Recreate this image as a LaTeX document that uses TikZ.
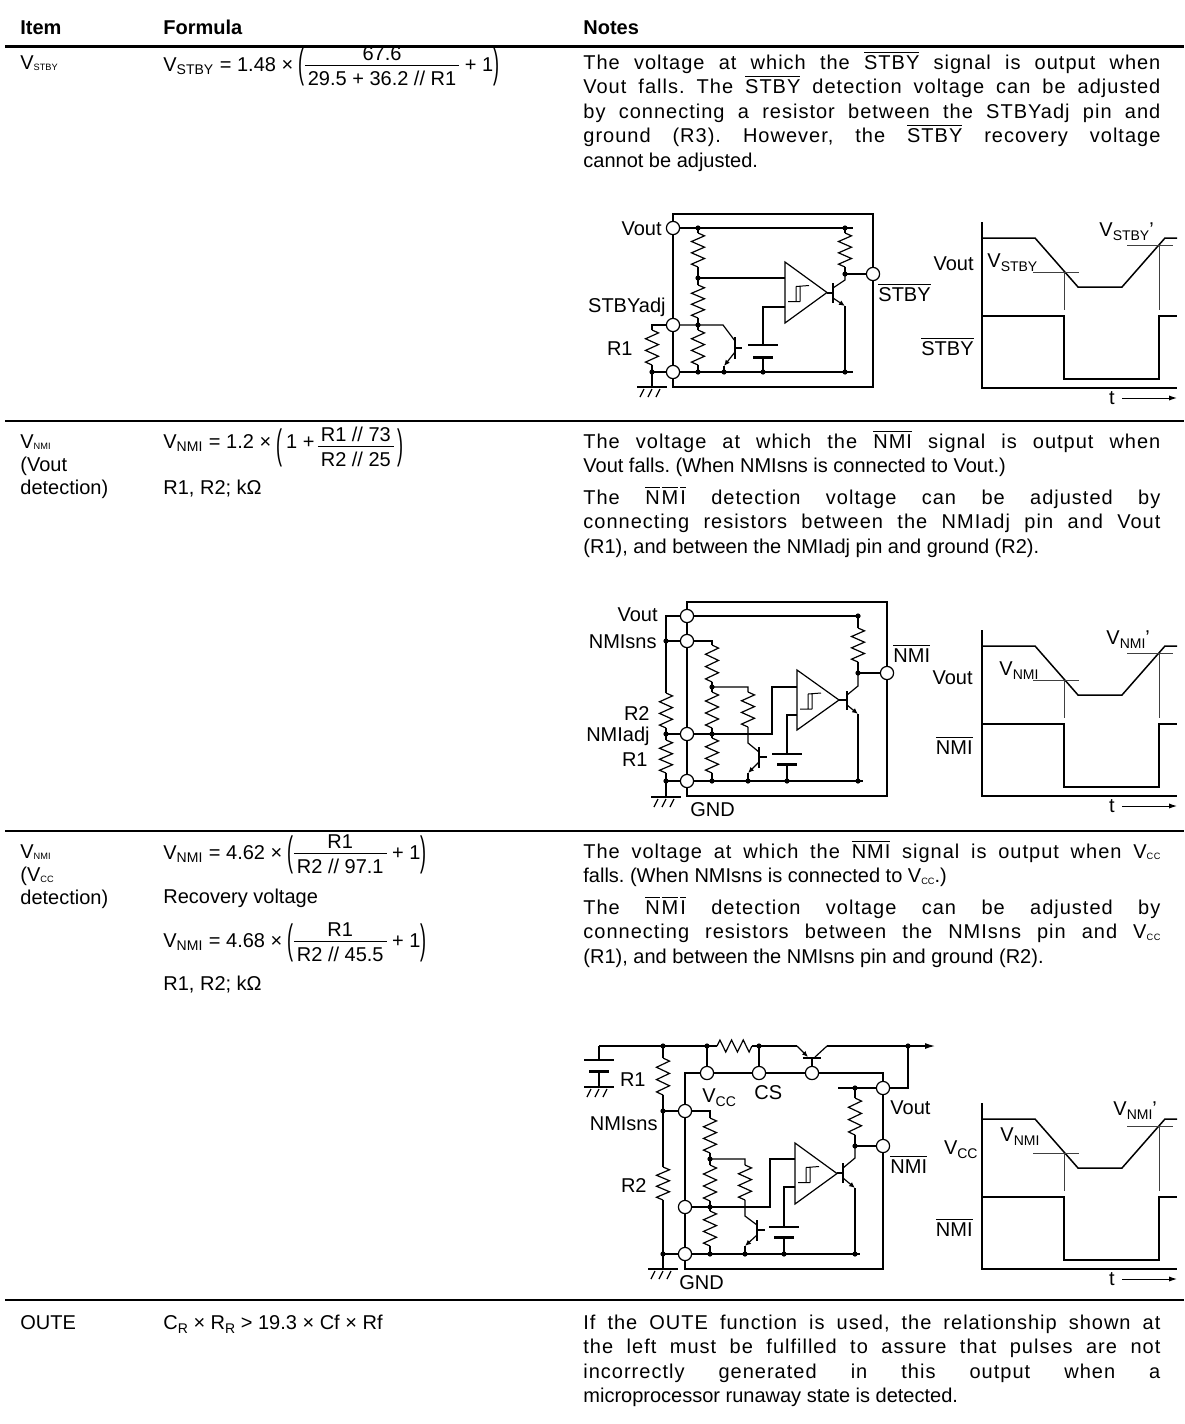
\documentclass[tikz,border=0pt]{standalone}
\usepackage{fontspec}
\setmainfont{Liberation Sans}
\usepackage{amsmath}
\usepackage{graphicx}
\usetikzlibrary{arrows.meta}
\newcommand{\olt}[1]{\ensuremath{\overline{\hbox{#1}}}}
\newcommand{\tsub}[2]{#1\raisebox{-0.8pt}{\fontsize{4.6}{5}\selectfont #2}}
\newcommand{\csub}[2]{#1\raisebox{-2pt}{\fontsize{7}{8}\selectfont #2}}
\newcommand{\mtx}[1]{\text{#1}}
\newcommand{\myfr}[2]{\vcenter{\offinterlineskip\halign{\hfil\kern1.5pt##\kern1.5pt\hfil\cr\vrule height7.5pt depth0.7pt width0pt #1\cr\noalign{\kern1.9pt\hrule height0.45pt\kern2.1pt}\vrule height7.5pt depth0.7pt width0pt #2\cr}}}
\newcommand{\lpar}{\raisebox{-3.3pt}{\scalebox{0.9}[2.05]{(}}}
\newcommand{\rpar}{\raisebox{-3.3pt}{\scalebox{0.9}[2.05]{)}}}
\newcommand{\lsp}[1]{{\addfontfeature{LetterSpace=5}#1}}
\newcommand{\vres}[3]{\draw[wire] (#1,#2) -- ({#1+6.5},{#2+(#3-#2)/12}) -- ({#1-6.5},{#2+3*(#3-#2)/12}) -- ({#1+6.5},{#2+5*(#3-#2)/12}) -- ({#1-6.5},{#2+7*(#3-#2)/12}) -- ({#1+6.5},{#2+9*(#3-#2)/12}) -- ({#1-6.5},{#2+11*(#3-#2)/12}) -- (#1,#3);}
\newcommand{\hres}[3]{\draw[wire] (#2,#1) -- ({#2+(#3-#2)/12},{#1-6}) -- ({#2+3*(#3-#2)/12},{#1+6}) -- ({#2+5*(#3-#2)/12},{#1-6}) -- ({#2+7*(#3-#2)/12},{#1+6}) -- ({#2+9*(#3-#2)/12},{#1-6}) -- ({#2+11*(#3-#2)/12},{#1+6}) -- (#3,#1);}
\newcommand{\gndsym}[2]{\draw[wire] ({#1-15},#2) -- ({#1+15},#2);
  \foreach \k in {-12,-4,4} \draw[wire] ({#1+\k},{#2+10}) -- ({#1+\k+4},{#2+2});}
\newcommand{\capv}[3]{\draw[line width=0.8pt] ({#1-15},#2) -- ({#1+15},#2);
  \draw[line width=1.5pt] ({#1-10},#3) -- ({#1+10},#3);}
\newcommand{\cmpr}[3]{\draw[wire] (#1,#2) -- ({#1+42},{(#2+#3)/2}) -- (#1,#3) -- cycle;
  \draw[line width=0.5pt] ({#1+3},{(#2+#3)/2+9}) -- ({#1+15},{(#2+#3)/2+9})
    ({#1+11},{(#2+#3)/2+9}) -- ({#1+11},{(#2+#3)/2-6})
    ({#1+15},{(#2+#3)/2+9}) -- ({#1+15},{(#2+#3)/2-6})
    ({#1+11},{(#2+#3)/2-6}) -- ({#1+24},{(#2+#3)/2-7});}
\newcommand{\waveform}[1]{%
  \draw[wav] (982,{#1-16}) -- (982,{#1+150}) -- (1177,{#1+150});
  \draw[wav] (982,#1) -- (1035,#1) -- (1078,{#1+49}) -- (1122,{#1+49}) -- (1165,#1) -- (1177,#1);
  \draw[thr] (1033,{#1+34}) -- (1079,{#1+34}) (1064,{#1+34}) -- (1064,{#1+72});
  \draw[thr] (1127,{#1+7}) -- (1173,{#1+7}) (1159,{#1+7}) -- (1159,{#1+72});
  \draw[wav] (982,{#1+78}) -- (1064,{#1+78}) -- (1064,{#1+141}) -- (1159,{#1+141}) -- (1159,{#1+78}) -- (1177,{#1+78});
  \node[lbl,anchor=base] at (1112,{#1+166}) {t};
  \draw[line width=0.5pt,-{Latex[length=4pt,width=2.6pt]}] (1122,{#1+160}) -- (1177,{#1+160});}
\tikzset{
  wire/.style={line width=0.6pt},
  boxl/.style={line width=0.75pt},
  pin/.style={circle,draw,fill=white,line width=0.6pt,minimum size=6.6pt,inner sep=0pt},
  jn/.style={circle,fill=black,minimum size=2.6pt,inner sep=0pt},
  lbl/.style={inner sep=0pt,font=\fontsize{10}{12}\selectfont},
  hdr/.style={inner sep=0pt,font=\bfseries\fontsize{10}{12}\selectfont},
  para/.style={inner sep=0pt,font=\fontsize{10}{12.25}\selectfont\frenchspacing,text width=288.5pt,align=justify,anchor=base west},
  wav/.style={line width=0.75pt},
  thr/.style={line width=0.45pt,black!75},
  rul/.style={line width=0.75pt},
  emit/.style={wire,-{Latex[length=3pt,width=2.6pt]}},
  tbar/.style={line width=0.9pt},
}
\begin{document}
\begin{tikzpicture}[x=0.5pt,y=-0.5pt]
\fill[white] (0,0) rectangle (1184,1424);
\useasboundingbox (0,0) rectangle (1184,1424);

% ---------- table frame ----------
\node[hdr,anchor=base west] (hItem) at (20,34) {Item};
\node[hdr,anchor=base west] (hForm) at (163,34) {Formula};
\node[hdr,anchor=base west] (hNotes) at (583,34) {Notes};
\draw[line width=1.5pt] (5,46) -- (1184,46);
\draw[rul] (5,421) -- (1184,421);
\draw[rul] (5,831) -- (1184,831);
\draw[rul] (5,1300) -- (1184,1300);

% ---------- row 1 text ----------
\node[lbl,anchor=base west] (i1) at (20,69) {\tsub{V}{STBY}};
\node[lbl,anchor=base west] (f1) at (163,71) {$\mtx{V}_{\mtx{STBY}}\mtx{ = 1.48 ×}\;\lpar\myfr{67.6}{29.5 + 36.2 // R1}\mtx{ + 1}\rpar$};
\node[para] (n1) at (583,69) {\lsp{The voltage at which the \olt{STBY} signal is output when}\linebreak \lsp{Vout falls. The \olt{STBY} detection voltage can be adjusted}\linebreak \lsp{by connecting a resistor between the STBYadj pin and}\linebreak \lsp{ground (R3). However, the \olt{STBY} recovery voltage}\linebreak cannot be adjusted.};

% ---------- row 2 text ----------
\node[lbl,anchor=base west] (i2a) at (20,448) {\tsub{V}{NMI}};
\node[lbl,anchor=base west] (i2b) at (20,471) {(Vout};
\node[lbl,anchor=base west] (i2c) at (20,494) {detection)};
\node[lbl,anchor=base west] (f2) at (163,452) {$\raisebox{2pt}{$\mtx{V}_{\mtx{NMI}}$ = 1.2 ×}\;\lpar\,\raisebox{2pt}{1 +}\,\myfr{R1 // 73}{R2 // 25}\,\rpar$};
\node[lbl,anchor=base west] (u2) at (163,494) {R1, R2; kΩ};
\node[para] (n2a) at (583,448) {\lsp{The voltage at which the \olt{NMI} signal is output when}\linebreak Vout falls. (When NMIsns is connected to Vout.)};
\node[para] (n2b) at (583,504) {\lsp{The \olt{N}\kern1pt\olt{M}\kern1pt\olt{I} detection voltage can be adjusted by}\linebreak \lsp{connecting resistors between the NMIadj pin and Vout}\linebreak (R1), and between the NMIadj pin and ground (R2).};

% ---------- row 3 text ----------
\node[lbl,anchor=base west] (i3a) at (20,858) {\tsub{V}{NMI}};
\node[lbl,anchor=base west] (i3b) at (20,881) {(\tsub{V}{CC}};
\node[lbl,anchor=base west] (i3c) at (20,904) {detection)};
\node[lbl,anchor=base west] (f3a) at (163,859) {$\mtx{V}_{\mtx{NMI}}\mtx{ = 4.62 ×}\;\lpar\myfr{R1}{R2 // 97.1}\mtx{ + 1}\rpar$};
\node[lbl,anchor=base west] (r3) at (163,903) {Recovery voltage};
\node[lbl,anchor=base west] (f3b) at (163,947) {$\mtx{V}_{\mtx{NMI}}\mtx{ = 4.68 ×}\;\lpar\myfr{R1}{R2 // 45.5}\mtx{ + 1}\rpar$};
\node[lbl,anchor=base west] (u3) at (163,990) {R1, R2; kΩ};
\node[para] (n3a) at (583,858) {\lsp{The voltage at which the \olt{NMI} signal is output when \tsub{V}{CC}}\linebreak falls. (When NMIsns is connected to \tsub{V}{CC}.)};
\node[para] (n3b) at (583,914) {\lsp{The \olt{N}\kern1pt\olt{M}\kern1pt\olt{I} detection voltage can be adjusted by}\linebreak \lsp{connecting resistors between the NMIsns pin and \tsub{V}{CC}}\linebreak (R1), and between the NMIsns pin and ground (R2).};

% ---------- row 4 text ----------
\node[lbl,anchor=base west] (i4) at (20,1329) {OUTE};
\node[lbl,anchor=base west] (f4) at (163,1329) {\csub{C}{R} × \csub{R}{R} > 19.3 × Cf × Rf};
\node[para] (n4) at (583,1329) {\lsp{If the OUTE function is used, the relationship shown at}\linebreak \lsp{the left must be fulfilled to assure that pulses are not}\linebreak \lsp{incorrectly generated in this output when a}\linebreak microprocessor runaway state is detected.};

% ================= circuit 1 =================
\draw[boxl] (673,214) rectangle (873,387);
\draw[wire] (673,228) -- (853,228);
\draw[wire] (698,228)--(698,233) (698,267)--(698,285) (698,318)--(698,330) (698,365)--(698,372);
\vres{698}{233}{267}\vres{698}{285}{318}\vres{698}{330}{365}
\draw[wire] (698,278) -- (785,278);
\cmpr{785}{262}{323}
\draw[wire] (785,307) -- (763,307) -- (763,345);
\capv{763}{345}{357}
\draw[wire] (763,357) -- (763,372);
\draw[wire] (827,293) -- (833,293);
\draw[tbar] (833,283) -- (833,303);
\draw[wire] (833,288) -- (845,280) -- (845,274);
\draw[emit] (833,298) -- (845,306);
\draw[wire] (845,306) -- (845,372);
\draw[wire] (845,228)--(845,233) (845,267)--(845,274) -- (873,274);
\vres{845}{233}{267}
\draw[wire] (673,325) -- (723,325) -- (735,341);
\draw[tbar] (735,337) -- (735,359);
\draw[wire] (735,348) -- (742,348);
\draw[emit] (735,352) -- (724,366);
\draw[wire] (724,366) -- (724,372);
\draw[wire] (673,372) -- (853,372);
\draw[wire] (673,325) -- (652,325) -- (652,330) (652,365) -- (652,387);
\vres{652}{330}{365}
\draw[wire] (652,372) -- (673,372);
\gndsym{652}{387}
\node[pin] (c1vout) at (673,228) {};
\node[pin] (c1adj) at (673,325) {};
\node[pin] (c1gnd) at (673,372) {};
\node[pin] (c1out) at (873,274) {};
\foreach \p in {(698,228),(845,228),(698,278),(698,325),(698,372),(724,372),(763,372),(845,372),(845,274),(652,372)} \node[jn] at \p {};
\node[lbl,anchor=base east] (l1a) at (662,235) {Vout};
\node[lbl,anchor=base east] (l1b) at (666,312) {STBYadj};
\node[lbl,anchor=base east] (l1c) at (633,355) {R1};
\node[lbl,anchor=base west] (l1d) at (878,301) {\olt{STBY}};

% waveform 1
\waveform{238}
\node[lbl,anchor=base east] (w1a) at (974,270) {Vout};
\node[lbl,anchor=base east] (w1b) at (974,355) {\olt{STBY}};
\node[lbl,anchor=base west] (w1c) at (987,267) {\csub{V}{STBY}};
\node[lbl,anchor=base west] (w1d) at (1099,236) {\csub{V}{STBY}’};

% ================= circuit 2 =================
\draw[boxl] (687,602) rectangle (887,796);
\draw[wire] (687,616) -- (858,616);
\draw[wire] (687,616) -- (666,616) -- (666,693) (666,728) -- (666,740) (666,773) -- (666,797);
\vres{666}{693}{728}\vres{666}{740}{773}
\draw[wire] (666,641) -- (687,641) (666,734) -- (687,734) (666,781) -- (687,781);
\gndsym{666}{797}
\draw[wire] (687,641) -- (712,641) -- (712,645) (712,682) -- (712,692) (712,728) -- (712,738) (712,773) -- (712,781);
\vres{712}{645}{682}\vres{712}{692}{728}\vres{712}{738}{773}
\draw[wire] (712,687) -- (748,687) -- (748,692) (748,727) -- (748,743) -- (759,752);
\vres{748}{692}{727}
\draw[tbar] (759,747) -- (759,768);
\draw[wire] (759,757) -- (767,757);
\draw[emit] (759,762) -- (748,773);
\draw[wire] (748,773) -- (748,781);
\draw[wire] (687,734) -- (772,734) -- (772,687) -- (797,687);
\cmpr{797}{670}{730}
\draw[wire] (797,715) -- (787,715) -- (787,754);
\capv{787}{754}{764}
\draw[wire] (787,764) -- (787,781);
\draw[wire] (839,700) -- (847,700);
\draw[tbar] (847,691) -- (847,710);
\draw[wire] (847,695) -- (858,686) -- (858,673);
\draw[emit] (847,705) -- (858,714);
\draw[wire] (858,714) -- (858,781);
\draw[wire] (858,616) -- (858,628) (858,662) -- (858,673) -- (887,673);
\vres{858}{628}{662}
\draw[wire] (687,781) -- (863,781);
\node[pin] (c2vout) at (687,616) {};
\node[pin] (c2sns) at (687,641) {};
\node[pin] (c2adj) at (687,734) {};
\node[pin] (c2gnd) at (687,781) {};
\node[pin] (c2out) at (887,673) {};
\foreach \p in {(858,616),(666,641),(712,687),(712,734),(666,734),(712,781),(748,781),(787,781),(858,781),(858,673),(666,781)} \node[jn] at \p {};
\node[lbl,anchor=base east] (l2a) at (658,621) {Vout};
\node[lbl,anchor=base east] (l2b) at (657,648) {NMIsns};
\node[lbl,anchor=base east] (l2c) at (650,720) {R2};
\node[lbl,anchor=base east] (l2d) at (650,741) {NMIadj};
\node[lbl,anchor=base east] (l2e) at (648,766) {R1};
\node[lbl,anchor=base west] (l2f) at (893,662) {\olt{NMI}};
\node[lbl,anchor=base west] (l2g) at (690,816) {GND};

% waveform 2
\waveform{646}
\node[lbl,anchor=base east] (w2a) at (973,684) {Vout};
\node[lbl,anchor=base east] (w2b) at (973,754) {\olt{NMI}};
\node[lbl,anchor=base west] (w2c) at (999,675) {\csub{V}{NMI}};
\node[lbl,anchor=base west] (w2d) at (1106,644) {\csub{V}{NMI}’};

% ================= circuit 3 =================
\draw[wire] (599,1046) -- (717,1046) (752,1046) -- (797,1046);
\hres{1046}{717}{752}
\draw[emit] (797,1046) -- (808,1057);
\draw[tbar] (803,1058) -- (821,1058);
\draw[wire] (815,1057) -- (827,1046);
\draw[wire,-{Latex[length=5pt,width=3pt]}] (827,1046) -- (935,1046);
\draw[wire] (812,1058) -- (812,1073);
\draw[wire] (599,1046) -- (599,1060);
\capv{599}{1060}{1071}
\draw[wire] (599,1071) -- (599,1087);
\gndsym{599}{1087}
\draw[wire] (663,1046) -- (663,1058) (663,1095) -- (663,1167) (663,1200) -- (663,1269);
\vres{663}{1058}{1095}\vres{663}{1167}{1200}
\draw[wire] (663,1111) -- (685,1111) (663,1254) -- (685,1254);
\gndsym{663}{1269}
\draw[boxl] (685,1073) rectangle (883,1269);
\draw[wire] (707,1046) -- (707,1073) (759,1046) -- (759,1073);
\draw[wire] (883,1088) -- (908,1088) -- (908,1046);
\draw[wire] (838,1088) -- (883,1088);
\draw[wire] (855,1088) -- (855,1098) (855,1135) -- (855,1146) -- (883,1146);
\vres{855}{1098}{1135}
\draw[wire] (685,1111) -- (710,1111) -- (710,1118) (710,1153) -- (710,1165) (710,1201) -- (710,1211) (710,1246) -- (710,1254);
\vres{710}{1118}{1153}\vres{710}{1165}{1201}\vres{710}{1211}{1246}
\draw[wire] (710,1159) -- (745,1159) -- (745,1165) (745,1200) -- (745,1216) -- (757,1225);
\vres{745}{1165}{1200}
\draw[tbar] (757,1220) -- (757,1241);
\draw[wire] (757,1230) -- (765,1230);
\draw[emit] (757,1235) -- (745,1246);
\draw[wire] (745,1246) -- (745,1254);
\draw[wire] (685,1207) -- (770,1207) -- (770,1159) -- (795,1159);
\cmpr{795}{1143}{1204}
\draw[wire] (795,1187) -- (784,1187) -- (784,1227);
\capv{784}{1227}{1237}
\draw[wire] (784,1237) -- (784,1254);
\draw[wire] (837,1173) -- (843,1173);
\draw[tbar] (843,1163) -- (843,1183);
\draw[wire] (843,1168) -- (855,1158) -- (855,1146);
\draw[emit] (843,1178) -- (855,1188);
\draw[wire] (855,1188) -- (855,1254);
\draw[wire] (685,1254) -- (860,1254);
\node[pin] (c3vcc) at (707,1073) {};
\node[pin] (c3cs) at (759,1073) {};
\node[pin] (c3b) at (812,1073) {};
\node[pin] (c3sns) at (685,1111) {};
\node[pin] (c3adj) at (685,1207) {};
\node[pin] (c3gnd) at (685,1254) {};
\node[pin] (c3vout) at (883,1088) {};
\node[pin] (c3out) at (883,1146) {};
\foreach \p in {(663,1046),(707,1046),(759,1046),(908,1046),(663,1111),(855,1088),(855,1146),(710,1159),(710,1207),(663,1254),(710,1254),(745,1254),(784,1254),(855,1254)} \node[jn] at \p {};
\node[lbl,anchor=base east] (l3a) at (646,1086) {R1};
\node[lbl,anchor=base east] (l3b) at (658,1130) {NMIsns};
\node[lbl,anchor=base east] (l3c) at (647,1192) {R2};
\node[lbl,anchor=base west] (l3d) at (702,1102) {\csub{V}{CC}};
\node[lbl,anchor=base west] (l3e) at (754,1099) {CS};
\node[lbl,anchor=base west] (l3f) at (890,1114) {Vout};
\node[lbl,anchor=base west] (l3g) at (890,1173) {\olt{NMI}};
\node[lbl,anchor=base west] (l3h) at (679,1289) {GND};

% waveform 3
\waveform{1119}
\node[lbl,anchor=base east] (w3a) at (978,1154) {\csub{V}{CC}};
\node[lbl,anchor=base east] (w3b) at (973,1236) {\olt{NMI}};
\node[lbl,anchor=base west] (w3c) at (1000,1141) {\csub{V}{NMI}};
\node[lbl,anchor=base west] (w3d) at (1113,1115) {\csub{V}{NMI}’};
\end{tikzpicture}
\end{document}
